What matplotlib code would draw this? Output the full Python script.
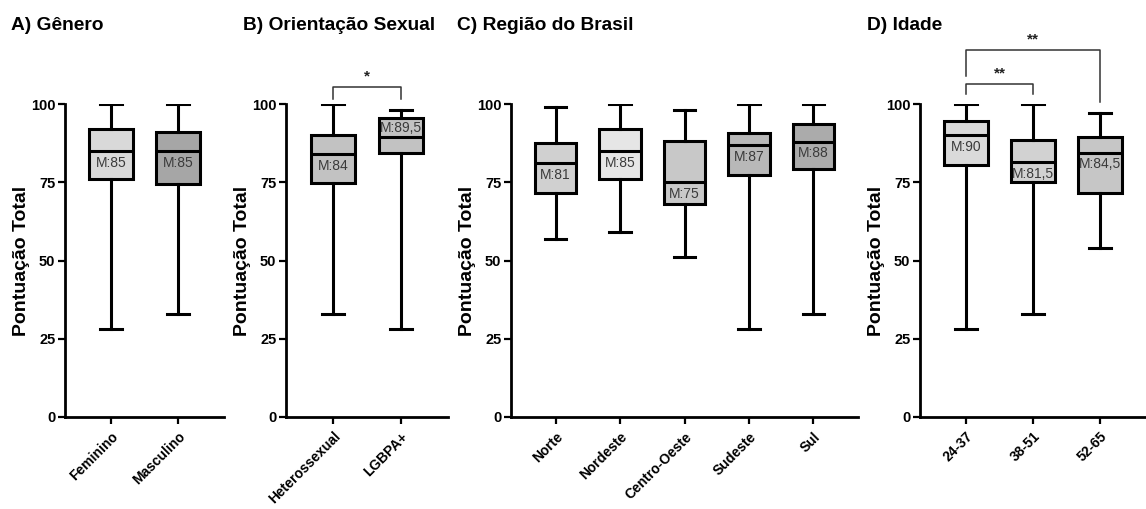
import matplotlib
matplotlib.use("Agg")
import matplotlib.pyplot as plt

plt.rcParams['font.family'] = ['Liberation Sans', 'DejaVu Sans']

# A) Genero
genero = ['Feminino', 'Masculino']
genero_min = [28, 33]
genero_q1 = [76, 74.5]
genero_med = [85, 85]
genero_q3 = [92, 91]
genero_max = [100, 100]
genero_cor = ['#d9d9d9', '#a6a6a6']
genero_rotulo = ['abaixo', 'abaixo']

# B) Orientacao sexual
orient = ['Heterossexual', 'LGBPA+']
orient_min = [33, 28]
orient_q1 = [74.7, 84.4]
orient_med = [84, 89.5]
orient_q3 = [90.2, 95.5]
orient_max = [100, 98]
orient_cor = ['#c2c2c2', '#c2c2c2']
orient_rotulo = ['abaixo', 'acima']

# C) Regiao
regiao = ['Norte', 'Nordeste', 'Centro-Oeste', 'Sudeste', 'Sul']
regiao_min = [57, 59, 51, 28, 33]
regiao_q1 = [71.7, 76.1, 68.2, 77.2, 79.1]
regiao_med = [81, 85, 75, 87, 88]
regiao_q3 = [87.5, 92, 88.3, 90.7, 93.5]
regiao_max = [99, 100, 98, 100, 100]
regiao_cor = ['#d0d0d0', '#e6e6e6', '#c8c8c8', '#b8b8b8', '#ababab']
regiao_rotulo = ['abaixo', 'abaixo', 'abaixo', 'abaixo', 'abaixo']

# D) Idade
idade = ['24-37', '38-51', '52-65']
idade_min = [28, 33, 54]
idade_q1 = [80.4, 75, 71.6]
idade_med = [90, 81.5, 84.5]
idade_q3 = [94.5, 88.4, 89.3]
idade_max = [100, 100, 97]
idade_cor = ['#dadada', '#d2d2d2', '#c6c6c6']
idade_rotulo = ['abaixo', 'abaixo', 'abaixo']

# significancia: (grupo i, grupo j, texto, altura barra, perna esq, perna dir)
sig_orient = [(0, 1, '*', 105.5, 101.5, 101.5)]
sig_idade = [(0, 1, '**', 106.3, 103.3, 103.3),
             (0, 2, '**', 117.2, 109, 100.5)]

W, H = 1146, 509
fig = plt.figure(figsize=(W / 100, H / 100), dpi=100)


def painel(px_left, px_right, titulo, tx, nomes, mn, q1, med, q3, mx, cores, rotulo, sig=None):
    ax = fig.add_axes([px_left / W, 1 - 417 / H, (px_right - px_left) / W, (417 - 104) / H])
    stats = []
    for i in range(len(nomes)):
        stats.append({'med': med[i], 'q1': q1[i], 'q3': q3[i],
                      'whislo': mn[i], 'whishi': mx[i], 'fliers': []})
    pos = list(range(len(nomes)))
    bp = ax.bxp(stats, positions=pos, widths=0.65, patch_artist=True, showfliers=False,
                boxprops=dict(linewidth=2.2, edgecolor='black'),
                medianprops=dict(color='black', linewidth=2.2),
                whiskerprops=dict(linewidth=2.2, color='black'),
                capprops=dict(linewidth=2.2, color='black'),
                capwidths=0.33)
    for patch, c in zip(bp['boxes'], cores):
        patch.set_facecolor(c)

    for i in range(len(nomes)):
        txt = 'M:' + ('%g' % med[i]).replace('.', ',')
        y = med[i] - 3.8 if rotulo[i] == 'abaixo' else med[i] + 2.9
        ax.text(pos[i], y, txt, ha='center', va='center', fontsize=10, color='#3a3a3a')

    if sig:
        for i, j, s, yb, ye, yd in sig:
            ax.plot([pos[i], pos[i], pos[j], pos[j]], [ye, yb, yb, yd],
                    color='#333333', lw=1.1, clip_on=False)
            ax.text((pos[i] + pos[j]) / 2, yb + 1.2, s, ha='center', va='bottom',
                    fontsize=11, fontweight='bold', color='#222222')

    ax.set_ylim(0, 100)
    ax.set_xlim(-0.69, len(nomes) - 1 + 0.69)
    ax.set_yticks([0, 25, 50, 75, 100])
    ax.set_xticks(pos)
    ax.set_xticklabels(nomes, rotation=45, ha='right', rotation_mode='anchor',
                       fontsize=10, fontweight='bold')
    for lb in ax.get_yticklabels():
        lb.set_fontweight('bold')
        lb.set_fontsize(10.5)
    ax.spines['top'].set_visible(False)
    ax.spines['right'].set_visible(False)
    ax.spines['left'].set_linewidth(2)
    ax.spines['bottom'].set_linewidth(2)
    ax.tick_params(direction='out', length=5, width=1.6)
    ax.tick_params(axis='x', pad=4)
    ax.tick_params(axis='y', pad=2)
    ax.set_ylabel('Pontuação Total', fontsize=14, fontweight='bold', labelpad=0.5)
    fig.text(tx / W, 1 - 25 / H, titulo, fontsize=13.8, fontweight='bold', va='center', ha='left')
    return ax


painel(65, 224, 'A) Gênero', 11, genero, genero_min, genero_q1, genero_med,
       genero_q3, genero_max, genero_cor, genero_rotulo)
painel(286, 448, 'B) Orientação Sexual', 243, orient, orient_min, orient_q1, orient_med,
       orient_q3, orient_max, orient_cor, orient_rotulo, sig_orient)
painel(511, 858, 'C) Região do Brasil', 457, regiao, regiao_min, regiao_q1, regiao_med,
       regiao_q3, regiao_max, regiao_cor, regiao_rotulo)
painel(920, 1146, 'D) Idade', 867, idade, idade_min, idade_q1, idade_med,
       idade_q3, idade_max, idade_cor, idade_rotulo, sig_idade)

fig.savefig('out.png', dpi=100)
